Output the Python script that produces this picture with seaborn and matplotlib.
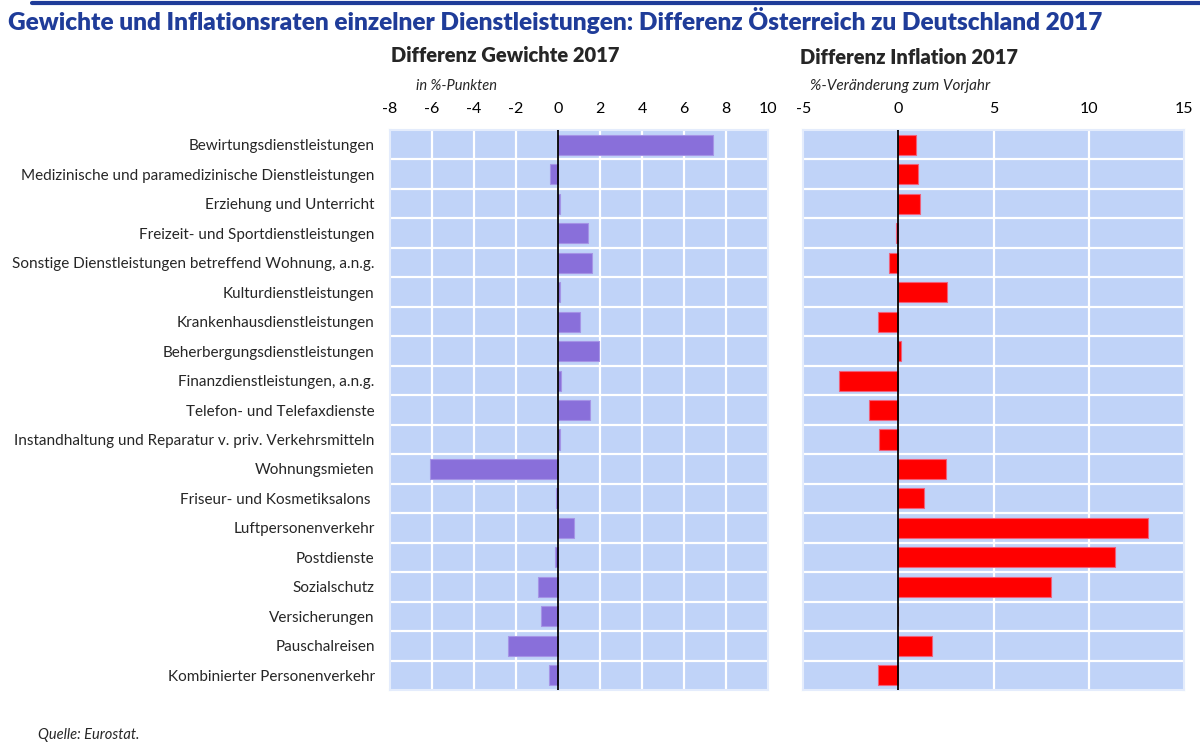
import matplotlib
matplotlib.use("Agg")
import matplotlib.pyplot as plt
from matplotlib.lines import Line2D
import seaborn as sns
import pandas as pd

# Services, in display order (top to bottom)
categories = [
    "Bewirtungsdienstleistungen",
    "Medizinische und paramedizinische Dienstleistungen",
    "Erziehung und Unterricht",
    "Freizeit- und Sportdienstleistungen",
    "Sonstige Dienstleistungen betreffend Wohnung, a.n.g.",
    "Kulturdienstleistungen",
    "Krankenhausdienstleistungen",
    "Beherbergungsdienstleistungen",
    "Finanzdienstleistungen, a.n.g.",
    "Telefon- und Telefaxdienste",
    "Instandhaltung und Reparatur v. priv. Verkehrsmitteln",
    "Wohnungsmieten",
    "Friseur- und Kosmetiksalons ",
    "Luftpersonenverkehr",
    "Postdienste",
    "Sozialschutz",
    "Versicherungen",
    "Pauschalreisen",
    "Kombinierter Personenverkehr",
]

# Difference of HICP weights AT - DE (percentage points)
weight_diff = [7.4, -0.38, 0.1, 1.44, 1.62, 0.1, 1.03, 1.97, 0.14, 1.5,
               0.1, -6.1, -0.08, 0.74, -0.14, -0.97, -0.8, -2.38, -0.43]

# Difference of inflation rates AT - DE (% change on previous year)
inflation_diff = [0.93, 1.0, 1.12, -0.12, -0.49, 2.56, -1.08, 0.14, -3.1, -1.54,
                  -1.01, 2.49, 1.33, 13.09, 11.39, 8.02, -0.05, 1.78, -1.08]

weight_ticks = [-8, -6, -4, -2, 0, 2, 4, 6, 8, 10]
inflation_ticks = [-5, 0, 5, 10, 15]

df = pd.DataFrame({"Kategorie": categories,
                   "Gewichte": weight_diff,
                   "Inflation": inflation_diff})

sns.set_theme(style="white")
plt.rcParams["font.family"] = ["Lato", "DejaVu Sans"]

BG = "#C0D3F8"
TITLE_BLUE = "#1F3C99"

fig = plt.figure(figsize=(12, 7.43), dpi=100)
ax1 = fig.add_axes([0.325, 0.0713, 0.315, 0.7537])
ax2 = fig.add_axes([0.6694, 0.0713, 0.3173, 0.7537])


def style_panel(ax, ticks, show_labels):
    ax.set_facecolor(BG)
    ax.set_xlim(ticks[0], ticks[-1])
    ax.set_ylim(len(categories) - 0.5, -0.5)
    ax.set_xticks(ticks)
    ax.set_xticklabels([str(t) for t in ticks], fontsize=11.5)
    ax.xaxis.tick_top()
    ax.tick_params(axis="x", length=0, pad=10, colors="black")
    ax.tick_params(axis="y", length=0, pad=11)
    for t in ticks[1:-1]:
        ax.axvline(t, color="white", lw=1.6, zorder=0.5)
    for i in range(1, len(categories)):
        ax.axhline(i - 0.5, color="white", lw=1.6, zorder=0.5)
    ax.axvline(0, color="black", lw=1.3, zorder=3)
    for s in ax.spines.values():
        s.set_color("#E4ECFC")
        s.set_linewidth(1.5)
    ax.set_xlabel("")
    ax.set_ylabel("")
    if show_labels:
        ax.set_yticks(range(len(categories)))
        ax.set_yticklabels(categories, fontsize=11)
    else:
        ax.set_yticks([])


sns.barplot(data=df, x="Gewichte", y="Kategorie", ax=ax1, orient="h",
            color="#896FDA", width=0.68, saturation=1,
            edgecolor="#A594E6", linewidth=0.8, zorder=2)
sns.barplot(data=df, x="Inflation", y="Kategorie", ax=ax2, orient="h",
            color="#FF0000", width=0.68, saturation=1,
            edgecolor="#F0607A", linewidth=0.8, zorder=2)

style_panel(ax1, weight_ticks, True)
style_panel(ax2, inflation_ticks, False)

# Header
fig.add_artist(Line2D([32 / 1200, 1.0], [1 - 3 / 743, 1 - 3 / 743],
                      color=TITLE_BLUE, lw=3))
fig.text(8 / 1200, 1 - 21 / 743,
         "Gewichte und Inflationsraten einzelner Dienstleistungen: "
         "Differenz Österreich zu Deutschland 2017",
         color=TITLE_BLUE, fontsize=17.6, fontweight="heavy", va="center", ha="left")

fig.text(505 / 1200, 1 - 55 / 743, "Differenz Gewichte 2017",
         fontsize=14.5, fontweight="heavy", ha="center", va="center")
fig.text(909 / 1200, 1 - 57 / 743, "Differenz Inflation 2017",
         fontsize=14.5, fontweight="heavy", ha="center", va="center")

fig.text(416 / 1200, 1 - 86 / 743, "in %-Punkten",
         fontsize=10.5, style="italic", ha="left", va="center")
fig.text(810 / 1200, 1 - 86 / 743, "%-Veränderung zum Vorjahr",
         fontsize=11, style="italic", ha="left", va="center")

fig.text(38 / 1200, 1 - 735 / 743, "Quelle: Eurostat.",
         fontsize=10.5, style="italic", ha="left", va="center")

fig.savefig("out.png", dpi=100, facecolor="white")
